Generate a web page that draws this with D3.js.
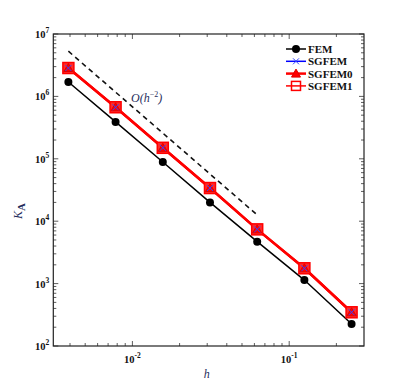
<!DOCTYPE html>
<html lang="en">
<head>
    <meta charset="utf-8">
    <title>Condition number vs h</title>
    <style>
        body { margin:0; background:white; }
        .tick-label { font:bold 10.5px "Liberation Serif", serif; fill:#111; }
        .legend text { font:bold 11px "Liberation Serif", serif; fill:#111; }
        .math { font:italic 12px "Liberation Serif", serif; fill:#1f2d5c; }
    </style>
</head>
<body>
<svg class="chart"></svg>
<script src="https://cdnjs.cloudflare.com/ajax/libs/d3/7.8.5/d3.min.js"></script>
<script>
    // mesh sizes h = 1/256 ... 1/4
    var hValues = [1/256, 1/128, 1/64, 1/32, 1/16, 1/8, 1/4];
    var femValues = [1.7e6, 3.9e5, 8.9e4, 2.0e4, 4.7e3, 1.14e3, 225];
    var sgfemValues = [2.85e6, 6.7e5, 1.5e5, 3.4e4, 7.4e3, 1.76e3, 347];
    var sgfem0Values = [2.85e6, 6.7e5, 1.5e5, 3.4e4, 7.4e3, 1.76e3, 347];
    var sgfem1Values = [2.85e6, 6.7e5, 1.5e5, 3.4e4, 7.4e3, 1.76e3, 347];
    // reference slope O(h^-2)
    var refH = [1/256, 1/16];
    var refValues = [5.3e6, 1.26e4];
    var xTickExps = [-2, -1];
    var yTickExps = [2, 3, 4, 5, 6, 7];
    var seriesNames = ['FEM', 'SGFEM', 'SGFEM0', 'SGFEM1'];

    var W = 394, H = 386;
    var box = {left:53.3, right:364, top:34, bottom:346};

    var svg = d3.select('.chart').attr('width', W).attr('height', H);

    var x = d3.scaleLog().domain([0.00313, 0.3]).range([box.left, box.right]);
    var y = d3.scaleLog().domain([1e2, 1e7]).range([box.bottom, box.top]);

    // minor ticks lists
    var xMinor = [], yMinor = [];
    [-3, -2, -1].forEach(function(e){
        for (var k = 2; k <= 9; k++) {
            var v = k * Math.pow(10, e);
            if (v > x.domain()[0] && v < x.domain()[1]) xMinor.push(v);
        }
    });
    [2, 3, 4, 5, 6].forEach(function(e){
        for (var k = 2; k <= 9; k++) yMinor.push(k * Math.pow(10, e));
    });
    var xMajor = xTickExps.map(function(e){ return Math.pow(10, e); });
    var yMajor = yTickExps.map(function(e){ return Math.pow(10, e); });

    var ticks = svg.append('g').attr('stroke', '#333').attr('stroke-width', 0.8);
    function tickPair(list, len, horiz) {
        list.forEach(function(v){
            if (horiz) {
                var px = x(v);
                ticks.append('line').attr('x1', px).attr('x2', px).attr('y1', box.bottom).attr('y2', box.bottom - len);
                ticks.append('line').attr('x1', px).attr('x2', px).attr('y1', box.top).attr('y2', box.top + len);
            } else {
                var py = y(v);
                ticks.append('line').attr('y1', py).attr('y2', py).attr('x1', box.left).attr('x2', box.left + len);
                ticks.append('line').attr('y1', py).attr('y2', py).attr('x1', box.right).attr('x2', box.right - len);
            }
        });
    }
    tickPair(xMinor, 3, true);
    tickPair(xMajor, 5, true);
    tickPair(yMinor, 3, false);
    tickPair(yMajor, 5, false);

    // frame
    svg.append('rect')
        .attr('x', box.left).attr('y', box.top)
        .attr('width', box.right - box.left).attr('height', box.bottom - box.top)
        .attr('fill', 'none').attr('stroke', '#222').attr('stroke-width', 1.2);

    // tick labels
    yTickExps.forEach(function(e){
        var t = svg.append('text').attr('class', 'tick-label')
            .attr('x', box.left - 4).attr('y', y(Math.pow(10, e)) + 4)
            .attr('text-anchor', 'end');
        t.append('tspan').text('10');
        t.append('tspan').attr('dy', -5).attr('font-size', 7.5).text(e);
    });
    xTickExps.forEach(function(e){
        var t = svg.append('text').attr('class', 'tick-label')
            .attr('x', x(Math.pow(10, e))).attr('y', box.bottom + 17)
            .attr('text-anchor', 'middle');
        t.append('tspan').text('10');
        t.append('tspan').attr('dy', -5).attr('font-size', 7.5).text('-' + Math.abs(e));
    });

    // axis titles
    svg.append('text').attr('class', 'math')
        .attr('x', 206.7).attr('y', 378).attr('text-anchor', 'middle')
        .attr('font-size', 14).text('h');
    var yl = svg.append('text').attr('class', 'math')
        .attr('transform', 'translate(22,211) rotate(-90)')
        .attr('text-anchor', 'middle').attr('font-size', 17);
    yl.append('tspan').text('K');
    yl.append('tspan').attr('dy', 3).attr('font-size', 11).attr('font-style', 'normal').attr('font-weight', 'bold').text('A');

    // reference slope
    var line = d3.line().x(function(d){ return x(d[0]); }).y(function(d){ return y(d[1]); });
    svg.append('path')
        .datum(d3.zip(refH, refValues))
        .attr('d', line).attr('fill', 'none')
        .attr('stroke', '#111').attr('stroke-width', 1.6)
        .attr('stroke-dasharray', '5,4');
    var ot = svg.append('text').attr('class', 'math').attr('x', 131).attr('y', 102).attr('font-size', 12.5);
    ot.append('tspan').text('O(');
    ot.append('tspan').text('h');
    ot.append('tspan').attr('dy', -5).attr('font-size', 8).attr('font-style', 'normal').text('\u22122');
    ot.append('tspan').attr('dy', 5).text(')');

    // series lines
    svg.append('path').datum(d3.zip(hValues, femValues))
        .attr('d', line).attr('fill', 'none').attr('stroke', 'black').attr('stroke-width', 1.5);
    svg.append('path').datum(d3.zip(hValues, sgfemValues))
        .attr('d', line).attr('fill', 'none').attr('stroke', 'blue').attr('stroke-width', 1.5);
    svg.append('path').datum(d3.zip(hValues, sgfem0Values))
        .attr('d', line).attr('fill', 'none').attr('stroke', 'red').attr('stroke-width', 2.5);
    svg.append('path').datum(d3.zip(hValues, sgfem1Values))
        .attr('d', line).attr('fill', 'none').attr('stroke', 'red').attr('stroke-width', 2.5);

    // markers
    function circleMark(g) { g.append('circle').attr('r', 4).attr('fill', 'black'); }
    function squareMark(g) {
        g.append('rect').attr('x', -5.5).attr('y', -5.5).attr('width', 11).attr('height', 11)
            .attr('fill', '#ff2a2a').attr('stroke', 'red').attr('stroke-width', 1.5);
    }
    function triMark(g) {
        g.append('path').attr('d', 'M0,-4.5L4.5,3.5L-4.5,3.5Z').attr('fill', 'red').attr('stroke', '#e00000');
    }
    function starMark(g) {
        g.append('path').attr('d', 'M-3,-3L3,3M-3,3L3,-3').attr('stroke', '#3344ff').attr('stroke-width', 1);
    }
    function drawMarks(vals, fn) {
        d3.zip(hValues, vals).forEach(function(d){
            var g = svg.append('g').attr('transform', 'translate(' + x(d[0]) + ',' + y(d[1]) + ')');
            fn(g);
        });
    }
    drawMarks(femValues, circleMark);
    drawMarks(sgfem1Values, squareMark);
    drawMarks(sgfem0Values, triMark);
    drawMarks(sgfemValues, starMark);

    // legend
    var legendMarks = [circleMark, starMark, triMark, function(g){
        g.append('rect').attr('x', -4.5).attr('y', -4.5).attr('width', 9).attr('height', 9)
            .attr('fill', 'none').attr('stroke', 'red').attr('stroke-width', 1.5);
    }];
    var legendColors = ['black', 'blue', 'red', 'red'];
    var legendWidths = [1.5, 1.5, 2.5, 1.5];
    var legend = svg.append('g').attr('class', 'legend');
    seriesNames.forEach(function(name, i){
        var ly = 49 + i * 12.3;
        legend.append('line').attr('x1', 286).attr('x2', 306).attr('y1', ly).attr('y2', ly)
            .attr('stroke', legendColors[i]).attr('stroke-width', legendWidths[i]);
        var g = legend.append('g').attr('transform', 'translate(296,' + ly + ')');
        legendMarks[i](g);
        legend.append('text').attr('x', 308).attr('y', ly + 4).text(name);
    });
</script>
</body>
</html>
